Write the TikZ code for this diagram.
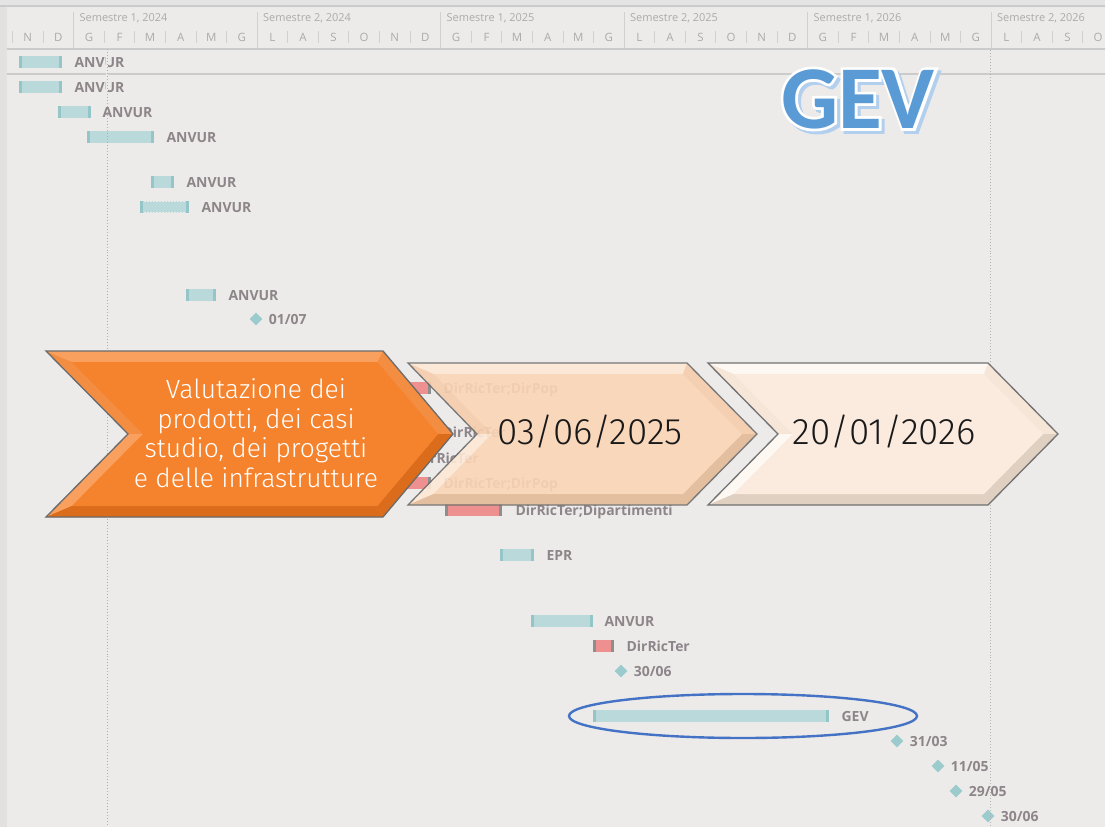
\documentclass[tikz,border=0pt]{standalone}
\usepackage{fontspec}
\setmainfont{Open Sans}
\newfontfamily\lightfont{Fira Sans Light}
\newfontfamily\titlefont{Carlito}
\newfontfamily\titlefat{Carlito}[BoldFeatures={FakeBold=6}]
\usetikzlibrary{positioning,shapes.geometric}

\definecolor{bg}{HTML}{ECEBEA}
\definecolor{topband}{HTML}{E4E4E4}
\definecolor{strip}{HTML}{E2E1E0}
\definecolor{hdrline}{HTML}{CBCBCB}
\definecolor{hdrtext}{HTML}{ABABAB}
\definecolor{tickc}{HTML}{D0D0D0}
\definecolor{barfill}{HTML}{BAD9DB}
\definecolor{barend}{HTML}{94C6C8}
\definecolor{redfill}{HTML}{EF9090}
\definecolor{redend}{HTML}{8E8E8E}
\definecolor{msfill}{HTML}{9CCBCE}
\definecolor{lblgray}{HTML}{8D8589}
\definecolor{todayc}{HTML}{96C290}
\definecolor{dotgray}{HTML}{B2B2B2}
\definecolor{ellc}{HTML}{4472C4}
\definecolor{gevblue}{HTML}{5B9BD5}
\definecolor{gevshadow}{HTML}{B3CFEE}
\definecolor{ormain}{HTML}{F5822C}
\definecolor{orlight}{HTML}{F9A05E}
\definecolor{ormid}{HTML}{F38D42}
\definecolor{ordark}{HTML}{DB6C1C}
\definecolor{pemain}{HTML}{FBD5B6}
\definecolor{pelight}{HTML}{FDE8D6}
\definecolor{pemid}{HTML}{F6CDAB}
\definecolor{pedark}{HTML}{E3BA97}
\definecolor{ltmain}{HTML}{FCECDF}
\definecolor{ltlight}{HTML}{FFF9F3}
\definecolor{ltmid}{HTML}{F7E6D8}
\definecolor{ltdark}{HTML}{E0CFC0}

\tikzset{
  ganttbar/.style 2 args={rectangle, inner sep=0pt, minimum height=12bp, anchor=west, fill=#1,
    path picture={
      \fill[#2] (path picture bounding box.north west) rectangle ([xshift=3bp]path picture bounding box.south west);
      \fill[#2] ([xshift=-3bp]path picture bounding box.north east) rectangle (path picture bounding box.south east);}},
  task/.style={ganttbar={barfill}{barend}},
  redtask/.style={ganttbar={redfill}{redend}},
  lbl/.style={font=\bfseries\fontsize{14}{14}\selectfont, text=lblgray, inner sep=0pt, text height=10bp, text depth=0pt},
  ms/.style={diamond, fill=msfill, inner sep=0pt, minimum size=13bp},
  sem/.style={font=\fontsize{11}{11}\selectfont, text=hdrtext, inner sep=0pt, anchor=west},
  month/.style={font=\fontsize{11.5}{11.5}\selectfont, text=hdrtext, inner sep=0pt},
  tick/.style={tickc, line width=0.8bp},
  chevline/.style={line width=1.3bp, draw=black!58},
  chevtxt/.style={font=\lightfont\fontsize{26.5}{29.7}\selectfont, text=white, align=center, inner sep=0pt},
  datetxt/.style={font=\lightfont\fontsize{37}{40}\selectfont, text=black!90, inner sep=0pt},
  gevtxt/.style={font=\titlefont\bfseries\fontsize{90}{90}\selectfont, inner sep=0pt},
  gevfat/.style={font=\titlefat\bfseries\fontsize{90}{90}\selectfont, inner sep=0pt}
}

\begin{document}
\begin{tikzpicture}[x=1bp, y=-1bp]
    \useasboundingbox (0,0) rectangle (1105,827);
    \fill[bg] (0,0) rectangle (1105,827);
    \fill[topband] (0,0) rectangle (1105,6);
    \fill[strip] (0,6) rectangle (7,827);
    \draw[hdrline, line width=1.2bp] (0,6) -- (1105,6);
    \draw[hdrline, line width=1.2bp] (7,49) -- (1105,49);
    \draw[hdrline, line width=1.2bp] (7,74) -- (1105,74);

    % timescale
    \foreach \k in {0,...,36}
      \draw[tick] ({12.5+30.58*\k},31) -- ++(0,12);
    \foreach \m [count=\k from 0] in {N,D,G,F,M,A,M,G,L,A,S,O,N,D,G,F,M,A,M,G,L,A,S,O,N,D,G,F,M,A,M,G,L,A,S,O}
      \node[month] (mo\k) at ({27.8+30.58*\k},37) {\m};
    \foreach \s/\yr [count=\j from 0] in {1/2024,2/2024,1/2025,2/2025,1/2026,2/2026} {
      \draw[tick] ({73.7+183.5*\j},12) -- ++(0,36);
      \node[sem] (se\j) at ({79.5+183.5*\j},18) {Semestre \s, \yr};
    }

    % tasks
    \node[task, minimum width=43bp] (b1) at (19,62) {};
    \node[lbl, right=12bp of b1] (l1) {ANVUR};
    \node[task, minimum width=43bp] (b2) at (19,87) {};
    \node[lbl, right=12bp of b2] (l2) {ANVUR};
    \node[task, minimum width=33bp] (b3) at (58,112) {};
    \node[lbl, right=11bp of b3] (l3) {ANVUR};
    \node[task, minimum width=67bp] (b4) at (87,137) {};
    \node[lbl, right=12bp of b4] (l4) {ANVUR};
    \node[task, minimum width=23bp] (b5) at (151,182) {};
    \node[lbl, right=12bp of b5] (l5) {ANVUR};
    \node[task, minimum width=49bp] (b6) at (140,207) {};
    \draw[bg, line width=1.5bp, dash pattern=on 1.5bp off 1.5bp] ([xshift=4bp,yshift=-0.8bp]b6.north west) -- ([xshift=-4bp,yshift=-0.8bp]b6.north east);
    \draw[bg, line width=1.5bp, dash pattern=on 1.5bp off 1.5bp] ([xshift=4bp,yshift=0.8bp]b6.south west) -- ([xshift=-4bp,yshift=0.8bp]b6.south east);
    \node[lbl, right=12bp of b6] (l6) {ANVUR};
    \node[task, minimum width=30bp] (b7) at (186,295) {};
    \node[lbl, right=12bp of b7] (l7) {ANVUR};
    \node[ms] (d1) at (256,319) {};
    \node[lbl, right=6bp of d1] (k1) {01/07};

    \node[redtask, minimum width=36bp] (r1) at (395,388) {};
    \node[lbl, right=12bp of r1] (q1) {DirRicTer;DirPop};
    \node[redtask, minimum width=48bp] (r2) at (380,432) {};
    \node[lbl, right=14bp of r2] (q2) {DirRicTer};
    \node[redtask, minimum width=33bp] (r3) at (370,458) {};
    \node[lbl, right=12bp of r3] (q3) {DirRicTer};
    \node[redtask, minimum width=36bp] (r4) at (395,483) {};
    \node[lbl, right=12bp of r4] (q4) {DirRicTer;DirPop};
    \node[redtask, minimum width=57bp] (r5) at (445,510) {};
    \node[lbl, right=13bp of r5] (q5) {DirRicTer;Dipartimenti};

    \node[task, minimum width=34bp] (b8) at (500,555) {};
    \node[lbl, right=12bp of b8] (l8) {EPR};
    \node[task, minimum width=62bp] (b9) at (531,621) {};
    \node[lbl, right=11bp of b9] (l9) {ANVUR};
    \node[redtask, minimum width=21bp] (r6) at (593,646) {};
    \node[lbl, right=12bp of r6] (q6) {DirRicTer};
    \node[ms] (d2) at (621,671) {};
    \node[lbl, right=6bp of d2] (k2) {30/06};
    \node[task, minimum width=236bp] (b10) at (593,716) {};
    \node[lbl, right=12bp of b10] (l10) {GEV};
    \node[ms] (d3) at (897,741) {};
    \node[lbl, right=6bp of d3] (k3) {31/03};
    \node[ms] (d4) at (938,766) {};
    \node[lbl, right=6bp of d4] (k4) {11/05};
    \node[ms] (d5) at (956,791) {};
    \node[lbl, right=6bp of d5] (k5) {29/05};
    \node[ms] (d6) at (988,816) {};
    \node[lbl, right=6bp of d6] (k6) {30/06};

    % today and end lines
    \draw[bg, line width=2.5bp] (107,50) -- (107,98);
    \draw[todayc, line width=1bp, dotted] (107,49) -- (107,827);
    \draw[dotgray, line width=1bp, dotted] (990.5,50) -- (990.5,827);

    \draw[ellc, line width=2.4bp] (743,716) ellipse [x radius=174, y radius=22];

    % chevrons
    \foreach \xl/\xr/\yt/\yb/\n/\d/\cmain/\clight/\cmid/\cdark/\op [count=\i] in
      {46/383/351/517/82/70/ormain/orlight/ormid/ordark/1,
       408/687/363/505/69/70/pemain/pelight/pemid/pedark/0.9,
       708/988/363/505/70/70/ltmain/ltlight/ltmid/ltdark/0.95} {
      \pgfmathsetmacro\ym{(\yt+\yb)/2}
      \pgfmathsetmacro\h{(\yb-\yt)/2}
      \pgfmathsetmacro\ia{\xl+15+\n*11/\h}
      \pgfmathsetmacro\ib{\xr-15+\d*11/\h}
      \begin{scope}[transparency group, opacity=\op]
        \fill[\cmid] (\xl,\yt) -- (\xr,\yt) -- ({\xr+\d},\ym) -- (\xr,\yb) -- (\xl,\yb) -- ({\xl+\n},\ym) -- cycle;
        \fill[\clight] (\xl,\yt) -- (\xr,\yt) -- (\ib,{\yt+11}) -- (\ia,{\yt+11}) -- cycle;
        \fill[\clight] (\xl,\yb) -- ({\xl+\n},\ym) -- ({\xl+\n+15},\ym) -- (\ia,{\yb-11}) -- cycle;
        \fill[\cdark] (\xl,\yb) -- (\xr,\yb) -- (\ib,{\yb-11}) -- (\ia,{\yb-11}) -- cycle;
        \fill[\cdark] ({\xr+\d},\ym) -- (\xr,\yb) -- (\ib,{\yb-11}) -- ({\xr+\d-15},\ym) -- cycle;
        \fill[\cmain] (\ia,{\yt+11}) -- (\ib,{\yt+11}) -- ({\xr+\d-15},\ym) -- (\ib,{\yb-11}) -- (\ia,{\yb-11}) -- ({\xl+\n+15},\ym) -- cycle;
        \draw[chevline] (\xl,\yt) -- (\xr,\yt) -- ({\xr+\d},\ym) -- (\xr,\yb) -- (\xl,\yb) -- ({\xl+\n},\ym) -- cycle;
      \end{scope}
    }
    \node[chevtxt] (c1txt) at (256,433) {Valutazione dei\\prodotti, dei casi\\studio, dei progetti\\e delle infrastrutture};
    \node[datetxt] (c2txt) at (590,432) {03/06/2025};
    \node[datetxt] (c3txt) at (884,432) {20/01/2026};

    % title
    \node[gevfat, text=gevshadow] (gevsh) at (861,102) {GEV};
    \node[gevfat, text=white] (gevout) at (858,99) {GEV};
    \node[gevtxt, text=gevblue] (gev) at (858,99) {GEV};
\end{tikzpicture}
\end{document}
